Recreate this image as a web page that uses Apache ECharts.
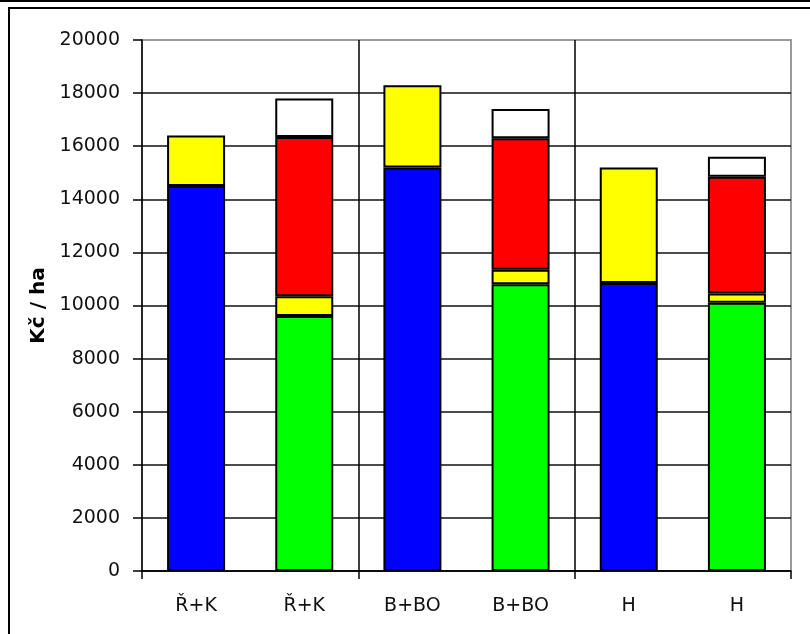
<!DOCTYPE html>
<html>
<head>
<meta charset="utf-8">
<style>
  html, body { margin: 0; padding: 0; background: #fff; }
  #chart { width: 810px; height: 634px; }
</style>
<script src="https://cdn.jsdelivr.net/npm/echarts@6/dist/echarts.min.js"></script>
</head>
<body>
<div id="chart"></div>
<script>
// Categories (two variants per crop group)
const categories = ['Ř+K', 'Ř+K', 'B+BO', 'B+BO', 'H', 'H'];

// Stacked cost components, Kč / ha
const blueValues   = [14500, null, 15200, null, 10850, null];
const greenValues  = [null, 9600, null, 10800, null, 10100];
const yellowValues = [1900, 750, 3100, 550, 4350, 350];
const redValues    = [null, 6000, null, 4950, null, 4400];
const whiteValues  = [null, 1450, null, 1100, null, 750];

// Y axis scale
const yMin = 0;
const yMax = 20000;
const yStep = 2000;

const chart = echarts.init(document.getElementById('chart'), null, { renderer: 'canvas' });

function stackSeries(name, data, color) {
  return {
    name: name,
    type: 'bar',
    stack: 'total',
    data: data,
    barWidth: 58,
    itemStyle: { color: color, borderColor: '#000', borderWidth: 2 },
    emphasis: { disabled: true }
  };
}

// group separators: one boundary every two categories
const everyOtherBoundary = function (index) { return index % 2 === 0; };

chart.setOption({
  animation: false,
  backgroundColor: '#fff',
  grid: {
    left: 142, right: 19, top: 40, bottom: 63,
    show: true, borderColor: '#9a9a9a', borderWidth: 2, backgroundColor: 'transparent'
  },
  xAxis: {
    type: 'category',
    data: categories,
    axisLine: { lineStyle: { color: '#000', width: 1.5 } },
    axisTick: { show: true, interval: everyOtherBoundary, length: 8, lineStyle: { color: '#000', width: 1.5 } },
    splitLine: { show: true, interval: everyOtherBoundary, showMinLine: false, showMaxLine: false, lineStyle: { color: '#000', width: 1.5 } },
    axisLabel: { interval: 0, margin: 26, color: '#111', fontFamily: 'DejaVu Sans', fontSize: 19 }
  },
  yAxis: {
    type: 'value',
    min: yMin, max: yMax, interval: yStep,
    name: 'Kč / ha',
    nameLocation: 'middle',
    nameGap: 92,
    nameTextStyle: { fontFamily: 'DejaVu Sans', fontWeight: 'bold', fontSize: 20, color: '#000' },
    axisLine: { show: true, lineStyle: { color: '#000', width: 1.5 } },
    axisTick: { show: true, length: 9, lineStyle: { color: '#000', width: 1.5 } },
    axisLabel: { margin: 22, color: '#111', fontFamily: 'DejaVu Sans', fontSize: 19, formatter: function (v) { return String(v); } },
    splitLine: { show: true, showMaxLine: false, lineStyle: { color: '#111', width: 1.5 } }
  },
  graphic: [
    { type: 'rect', shape: { x: 0, y: 0, width: 810, height: 2 }, style: { fill: '#000' }, silent: true },
    { type: 'polyline', shape: { points: [[9, 640], [9, 8], [815, 8]] }, style: { stroke: '#000', lineWidth: 2, fill: null }, silent: true }
  ],
  series: [
    stackSeries('blue', blueValues, '#0000ff'),
    stackSeries('green', greenValues, '#00ff00'),
    stackSeries('yellow', yellowValues, '#ffff00'),
    stackSeries('red', redValues, '#ff0000'),
    stackSeries('white', whiteValues, '#ffffff')
  ]
});
</script>
</body>
</html>
